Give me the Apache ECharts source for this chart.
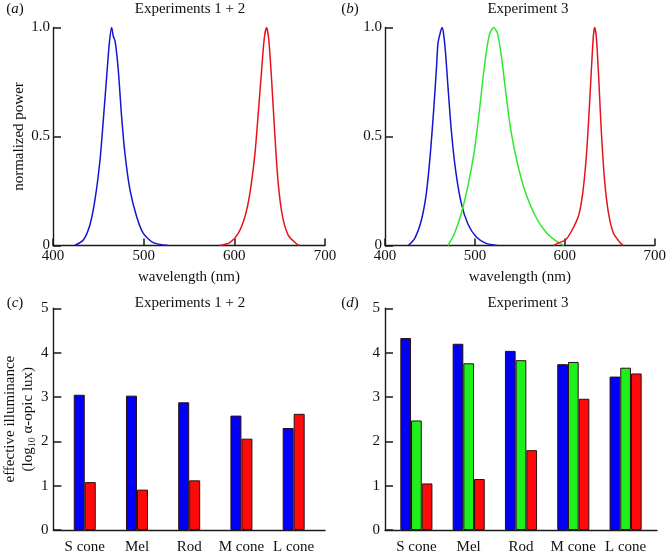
<!DOCTYPE html>
<html>
<head>
<meta charset="utf-8">
<script src="https://cdn.jsdelivr.net/npm/echarts@6/dist/echarts.min.js"></script>
<style>
html,body{margin:0;padding:0;background:#fff;}
#chart{width:669px;height:555px;}
</style>
</head>
<body>
<div id="chart"></div>
<script>
// ---------- data ----------
// spectra: [wavelength nm, normalized power]
const specA_blue = [[424,0],[433.4,0.025],[440.7,0.094],[446.3,0.21],[451.8,0.39],[455.5,0.576],[459.2,0.775],[462.1,0.927],[464.7,1.0],[466.5,0.96],[468.6,0.935],[472.0,0.805],[475.7,0.59],[479.4,0.42],[484.9,0.255],[492.3,0.132],[499.6,0.056],[510.6,0.013],[527,0]];
const specA_red = [[584,0],[595.1,0.013],[604.3,0.056],[611.7,0.132],[617.2,0.24],[622.7,0.42],[626.4,0.606],[630.1,0.805],[633.0,0.95],[635.6,1.0],[638.1,0.94],[641.1,0.76],[644.8,0.5],[648.4,0.285],[653.2,0.132],[659.4,0.048],[668.7,0.007],[672,0]];
const specB_blue = [[425.8,0],[433.1,0.033],[440.5,0.117],[446.0,0.24],[450.4,0.42],[454.1,0.62],[457.1,0.805],[458.9,0.927],[460.8,0.965],[463.4,1.0],[465.2,0.97],[467.4,0.88],[470.0,0.73],[473.7,0.53],[478.5,0.346],[484.8,0.194],[492.1,0.10],[501.3,0.04],[512.4,0.01],[525,0]];
const specB_green = [[470,0],[477.3,0.056],[484.8,0.147],[492.1,0.27],[499.5,0.438],[505,0.62],[510.5,0.82],[516,0.966],[520.8,1.0],[525.2,0.973],[530,0.85],[534.4,0.70],[539.9,0.53],[547.3,0.376],[556.5,0.24],[567.6,0.132],[578.6,0.063],[589.7,0.022],[599,0]];
const specB_red = [[587.8,0],[593.4,0.013],[600.7,0.025],[608.1,0.071],[615.5,0.14],[619.9,0.24],[623.6,0.392],[626.5,0.576],[629.5,0.805],[631.7,0.958],[633.1,1.0],[635,0.958],[637.6,0.775],[640.5,0.53],[644.2,0.30],[648.6,0.147],[654.1,0.056],[661.5,0.013],[665.2,0]];

const cones = ['S cone','Mel','Rod','M cone','L cone'];
const exp12_blue = [3.05, 3.03, 2.88, 2.58, 2.30];
const exp12_red  = [1.08, 0.91, 1.12, 2.06, 2.62];
const exp3_blue  = [4.33, 4.20, 4.04, 3.74, 3.46];
const exp3_green = [2.47, 3.76, 3.83, 3.79, 3.66];
const exp3_red   = [1.05, 1.15, 1.80, 2.96, 3.53];

const powerTickLabels = {0:'0', 0.5:'0.5', 1:'1.0'};
const panelTitles = ['Experiments 1 + 2','Experiment 3','Experiments 1 + 2','Experiment 3'];
const panelLetters = ['a','b','c','d'];

// ---------- styles ----------
const FONT = '"Liberation Serif","Times New Roman",serif';
const AX = '#1a1a1a';
const LBLUE = '#1414d2', LRED = '#e5141c', LGREEN = '#2ee82e';
const BBLUE = '#0000f5', BRED = '#ff0a0a', BGREEN = '#1ef01e';

const grids = [
  {left:53, top:27.5, width:272, height:218},
  {left:385, top:27.5, width:272, height:218},
  {left:53, top:308.3, width:272, height:222.4},
  {left:385, top:308.3, width:272, height:222.4}
];

function lineX(gi){
  return {type:'value', gridIndex:gi, min:400, max:700, interval:100,
    axisLine:{show:true, lineStyle:{color:AX, width:1.4}},
    axisTick:{show:true, inside:true, length:7, lineStyle:{color:AX, width:1.5}},
    axisLabel:{color:'#111', fontFamily:FONT, fontSize:15, margin:3},
    splitLine:{show:false},
    name:'wavelength (nm)', nameLocation:'middle', nameGap:24,
    nameTextStyle:{color:'#111', fontFamily:FONT, fontSize:15}
  };
}
function lineY(gi, withName){
  const o = {type:'value', gridIndex:gi, min:0, max:1, interval:0.5,
    axisLine:{show:true, lineStyle:{color:AX, width:1.4}},
    axisTick:{show:true, inside:true, length:8, lineStyle:{color:AX, width:1.5}},
    axisLabel:{color:'#111', fontFamily:FONT, fontSize:15, margin:3,
      formatter: v => powerTickLabels[v] !== undefined ? powerTickLabels[v] : ''},
    splitLine:{show:false}
  };
  if (withName) {
    o.name = 'normalized power'; o.nameLocation = 'middle'; o.nameGap = 26;
    o.nameTextStyle = {color:'#111', fontFamily:FONT, fontSize:15};
  }
  return o;
}
function barX(gi){
  return {type:'value', gridIndex:gi, min:0.4, max:5.6, interval:0.2,
    axisLine:{show:true, lineStyle:{color:AX, width:1.4}},
    axisTick:{show:false},
    axisLabel:{color:'#111', fontFamily:FONT, fontSize:15, margin:10,
      formatter: v => {const r = Math.round(v); return Math.abs(v - r) < 1e-6 && r >= 1 && r <= cones.length ? cones[r-1] : '';}},
    splitLine:{show:false}
  };
}
function barY(gi, withName){
  const o = {type:'value', gridIndex:gi, min:0, max:5, interval:1,
    axisLine:{show:true, lineStyle:{color:AX, width:1.4}},
    axisTick:{show:true, inside:true, length:8, lineStyle:{color:AX, width:1.5}},
    axisLabel:{color:'#111', fontFamily:FONT, fontSize:15, margin:5},
    splitLine:{show:false}
  };
  if (withName) {
    o.name = 'effective illuminance\n(log{sub|10} α-opic lux)';
    o.nameLocation = 'middle'; o.nameGap = 12;
    o.nameTextStyle = {color:'#111', fontFamily:FONT, fontSize:15, lineHeight:18,
      rich:{sub:{fontFamily:FONT, fontSize:10, lineHeight:18, verticalAlign:'bottom', color:'#111'}}};
  }
  return o;
}

function lineSeries(data, color, gi){
  return {type:'line', xAxisIndex:gi, yAxisIndex:gi, data:data, smooth:0.25,
    showSymbol:false, symbol:'none', lineStyle:{color:color, width:1.5}, silent:true, animation:false};
}
function barSeries(vals, color, gi, width){
  return {type:'bar', xAxisIndex:gi, yAxisIndex:gi,
    data: vals.map((v,i) => [i+1, v]),
    barWidth: width, barGap:'0%',
    itemStyle:{color:color, borderColor:'#2a1010', borderWidth:1},
    silent:true, animation:false};
}

const titleX = [190, 528, 190, 528];
const titleY = [9, 9, 303, 303];
const letterX = [15, 350, 15, 350];
const graphics = [];
for (let i=0;i<4;i++){
  graphics.push({type:'text', x:titleX[i], y:titleY[i],
    style:{text:panelTitles[i], font:'15px '+FONT, fill:'#111', align:'center', verticalAlign:'middle'}});
  graphics.push({type:'text', x:letterX[i], y:titleY[i],
    style:{text:'({it|'+panelLetters[i]+'})', font:'15px '+FONT, fill:'#111', align:'center', verticalAlign:'middle',
      rich:{it:{fontStyle:'italic', fontFamily:FONT, fontSize:15, fill:'#111'}}}});
}

const option = {
  animation:false,
  backgroundColor:'#fff',
  grid: grids,
  xAxis: [lineX(0), lineX(1), barX(2), barX(3)],
  yAxis: [lineY(0,true), lineY(1,false), barY(2,true), barY(3,false)],
  graphic: graphics,
  series: [
    lineSeries(specA_blue, LBLUE, 0),
    lineSeries(specA_red, LRED, 0),
    lineSeries(specB_blue, LBLUE, 1),
    lineSeries(specB_green, LGREEN, 1),
    lineSeries(specB_red, LRED, 1),
    barSeries(exp12_blue, BBLUE, 2, 11),
    barSeries(exp12_red, BRED, 2, 11),
    barSeries(exp3_blue, BBLUE, 3, 10.7),
    barSeries(exp3_green, BGREEN, 3, 10.7),
    barSeries(exp3_red, BRED, 3, 10.7)
  ]
};

const chart = echarts.init(document.getElementById('chart'), null, {renderer:'canvas'});
chart.setOption(option);
</script>
</body>
</html>
